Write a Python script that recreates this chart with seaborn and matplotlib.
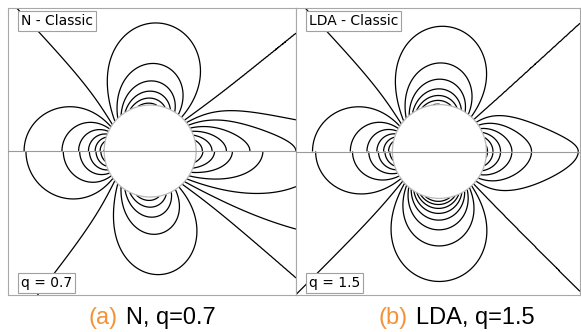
import numpy as np
import matplotlib
matplotlib.use("Agg")
import matplotlib.pyplot as plt
from matplotlib.patches import Circle
import seaborn as sns

sns.set_theme(style="white")
plt.rcParams["font.family"] = ["DejaVu Sans"]
plt.rcParams["contour.negative_linestyle"] = "solid"

# contour levels (field in units of the surface value)
LEVEL_STEP = 0.15
N_LEVELS = 8
levels = sorted([-LEVEL_STEP * k for k in range(1, N_LEVELS + 1)] + [0.0]
                + [LEVEL_STEP * k for k in range(1, N_LEVELS + 1)])

panel_titles = ["N - Classic", "LDA - Classic"]
q_labels = ["q = 0.7", "q = 1.5"]
caption_tags = ["(a)", "(b)"]
caption_texts = ["N, q=0.7", "LDA, q=1.5"]

# lobe parameters, order: right, middle (top/bottom), left
upper_amp = [[1.03, 0.97, 1.06], [0.935, 1.07, 1.05]]
upper_decay = [[1.07, 1.82, 1.94], [1.69, 2.00, 1.96]]
upper_narrow = [[0.75, 0.0, 0.0], [1.6, 0.0, 0.0]]
lower_amp = [[1.02, 0.85, 1.03], [0.935, 1.37, 1.00]]
lower_decay = [[0.913, 1.75, 1.94], [1.69, 2.17, 1.96]]
lower_narrow = [[0.0, 0.0, 0.0], [0.9, 0.0, 0.0]]
NARROW_POWER = 2.2

# nodal-line angles (deg from the horizontal axis): [right, left]
upper_nodes_near = [[42, 35], [43, 36]]
upper_nodes_far = [[39, 47], [42.5, 47]]
lower_nodes_near = [[46, 40], [43.5, 39]]
lower_nodes_far = [[41, 52], [45, 45]]
NODE_BEND = 0.5

# plotting window in sphere radii
x_limits = [(-3.09, 3.17), (-3.05, 2.99)]
y_limits = [(-3.13, 3.11), (-3.06, 3.06)]


def half_field(X, Y, amp, decay, narrow, near, far):
    r = np.maximum(np.hypot(X, Y), 0.97)
    t = np.degrees(np.arctan2(np.abs(Y), X))
    w = np.exp(-(r - 1.0) / NODE_BEND)
    a_r = far[0] + (near[0] - far[0]) * w
    a_l = far[1] + (near[1] - far[1]) * w
    right = t < a_r
    left = t >= 180.0 - a_l
    phi = np.where(right, t * 45.0 / a_r,
                   np.where(left, 135.0 + (t - (180.0 - a_l)) * 45.0 / a_l,
                            45.0 + (t - a_r) * 90.0 / (180.0 - a_l - a_r)))
    idx = np.where(right, 0, np.where(left, 2, 1))
    A = np.asarray(amp)[idx]
    n = np.asarray(decay)[idx]
    b = np.asarray(narrow)[idx]
    c = np.cos(np.radians(2.0 * phi))
    p = 1.0 + b * (r - 1.0) ** NARROW_POWER
    return np.sign(c) * A * r ** (-n) * np.abs(c) ** p


W, H = 581, 332
fig = plt.figure(figsize=(W / 100, H / 100), dpi=100)
panel_px = [(8, 288), (296, 284)]
top_px, bot_px = 8, 295

for i in range(2):
    left_px, width_px = panel_px[i]
    ax = fig.add_axes([left_px / W, (H - bot_px) / H, width_px / W, (bot_px - top_px) / H])
    xl, yl = x_limits[i], y_limits[i]
    xs = np.linspace(xl[0], xl[1], 700)

    ys_up = np.linspace(0.0, yl[1], 360)
    Xu, Yu = np.meshgrid(xs, ys_up)
    Zu = half_field(Xu, Yu, upper_amp[i], upper_decay[i], upper_narrow[i],
                    upper_nodes_near[i], upper_nodes_far[i])
    ax.contour(Xu, Yu, Zu, levels=levels, colors="black", linewidths=0.9)

    ys_dn = np.linspace(yl[0], 0.0, 360)
    Xd, Yd = np.meshgrid(xs, ys_dn)
    Zd = half_field(Xd, Yd, lower_amp[i], lower_decay[i], lower_narrow[i],
                    lower_nodes_near[i], lower_nodes_far[i])
    ax.contour(Xd, Yd, Zd, levels=levels, colors="black", linewidths=0.9)

    ax.add_patch(Circle((0, 0), 1.0, facecolor="white", edgecolor="#b8b8b8",
                        lw=0.9, zorder=3))
    ax.axhline(0.0, color="#9a9a9a", lw=0.8, zorder=4)

    ax.set_xlim(*xl)
    ax.set_ylim(*yl)
    ax.set_xticks([])
    ax.set_yticks([])
    for s in ax.spines.values():
        s.set_color("#a8a8a8")
        s.set_linewidth(0.8)

    box = dict(boxstyle="square,pad=0.2", fc="white", ec="#a0a0a0", lw=0.8)
    hpx = bot_px - top_px
    ax.text(13.0 / width_px, 1 - 6.0 / hpx, panel_titles[i], transform=ax.transAxes,
            ha="left", va="top", fontsize=10, color="black", bbox=box, zorder=6)
    ax.text(13.0 / width_px, 5.0 / hpx, q_labels[i], transform=ax.transAxes,
            ha="left", va="bottom", fontsize=10, color="black", bbox=box, zorder=6)

cap_y = 1 - 318 / H
split_x = [121, 411]
for i in range(2):
    fig.text((split_x[i] - 3) / W, cap_y, caption_tags[i], ha="right", va="center",
             fontsize=17, color="#F39237", family=["Liberation Sans"])
    fig.text((split_x[i] + 5) / W, cap_y, caption_texts[i], ha="left", va="center",
             fontsize=17, color="black", family=["Liberation Sans"])

fig.savefig("out.png", dpi=100)
